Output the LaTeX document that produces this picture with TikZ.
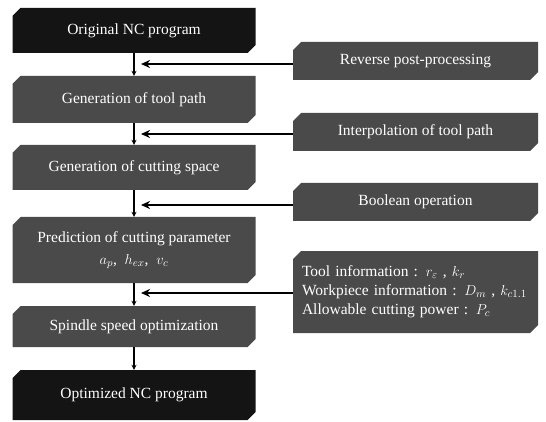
\documentclass[tikz,border=0pt]{standalone}
\usepackage{fontspec}
\setmainfont{Liberation Serif}
\usetikzlibrary{shapes.misc,arrows.meta,calc}
\definecolor{boxblack}{RGB}{20,20,20}
\definecolor{boxgray}{RGB}{74,74,74}
\tikzset{
  base/.style={chamfered rectangle, chamfered rectangle corners={north west,south east},
    chamfered rectangle xsep=4pt, chamfered rectangle ysep=4pt,
    text=white, font=\fontsize{15.5}{19}\selectfont, inner sep=2pt, align=center},
  blackbox/.style={base, fill=boxblack, minimum width=243pt},
  graybox/.style={base, fill=boxgray, minimum width=243pt},
  sidebox/.style={base, fill=boxgray, minimum width=245pt},
  vline/.style={line width=1.4pt, -{Stealth[length=5pt,width=5pt]}},
  hline/.style={line width=2.2pt, -{Stealth[length=9pt,width=8pt]}}
}
\begin{document}
\begin{tikzpicture}[x=1pt,y=-1pt]
\useasboundingbox (0,0) rectangle (546,422);
\node[blackbox, minimum height=45pt] (b1) at (134,30.5) {Original NC program};
\node[graybox, minimum height=47pt] (b2) at (134,99.5) {Generation of tool path};
\node[graybox, minimum height=45pt] (b3) at (134,167.5) {Generation of cutting space};
\node[graybox, minimum height=66pt] (b4) at (134,250) {Prediction of cutting parameter\\[3pt] $a_{p}$,\ \ $h_{ex}$,\ \ $v_{c}$};
\node[graybox, minimum height=41pt] (b5) at (134,326.5) {Spindle speed optimization};
\node[blackbox, minimum height=50pt] (b6) at (134,395) {Optimized NC program};

\node[sidebox, minimum height=38pt] (r1) at (415.5,61) {Reverse post-processing};
\node[sidebox, minimum height=38pt] (r2) at (415.5,132) {Interpolation of tool path};
\node[sidebox, minimum height=38pt] (r3) at (415.5,202) {Boolean operation};
\node[sidebox, minimum height=82pt, align=left, text width=227pt] (r4) at (415.5,292)
  {Tool information : $r_{\varepsilon}$ , $k_{r}$\\[0pt]
   Workpiece information : $D_{m}$ , $k_{c1.1}$\\[0pt]
   Allowable cutting power : $P_{c}$};

\draw[vline] (b1.south) -- (b2.north);
\draw[vline] (b2.south) -- (b3.north);
\draw[vline] (b3.south) -- (b4.north);
\draw[vline] (b4.south) -- (b5.north);
\draw[vline] (b5.south) -- (b6.north);

\draw[hline] ($(r1.west)+(0,3)$) -- ($(r1.west -| b1.south)+(7,3)$);
\draw[hline] ($(r2.west)+(0,2)$) -- ($(r2.west -| b1.south)+(7,2)$);
\draw[hline] ($(r3.west)+(0,3)$) -- ($(r3.west -| b1.south)+(7,3)$);
\draw[hline] ($(r4.west)+(0,1)$) -- ($(r4.west -| b1.south)+(7,1)$);
\end{tikzpicture}
\end{document}
